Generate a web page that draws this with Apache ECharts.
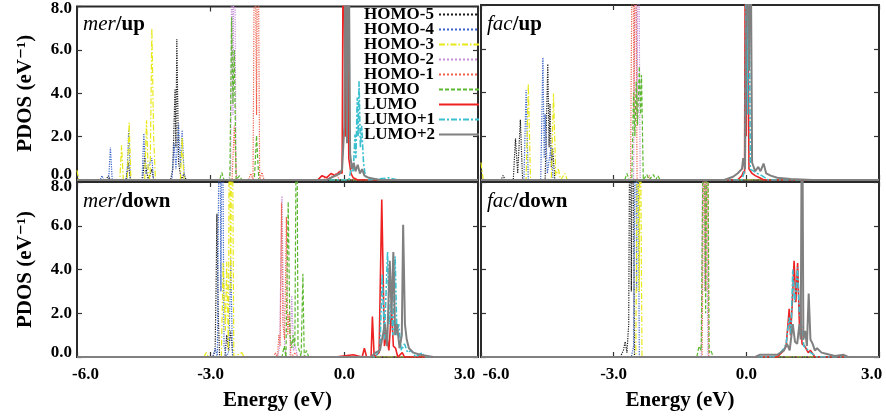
<!DOCTYPE html>
<html>
<head>
<meta charset="utf-8">
<script src="https://cdn.jsdelivr.net/npm/echarts@6/dist/echarts.min.js"></script>
<style>html,body{margin:0;padding:0;background:#fff}#c{width:886px;height:419px}</style>
</head>
<body>
<div id="c"></div>
<script>
// ---------- data ----------
const energyTicks = [-6, -3, 0, 3];
const pdosTicks = [0, 2, 4, 6, 8];
const orbitalNames = ['HOMO-5','HOMO-4','HOMO-3','HOMO-2','HOMO-1','HOMO','LUMO','LUMO+1','LUMO+2'];
const panelIsomers = ['mer', 'fac', 'mer', 'fac'];
const panelSpins = ['/up', '/up', '/down', '/down'];

// mer / up  ([energy eV, PDOS eV^-1])
const merUpH5 = [[-6,0],[-5.35,0],[-5.3,0.2],[-5.25,0],[-4.9,0],[-4.85,0.8],[-4.8,0],[-4.53,0],[-4.48,1.1],[-4.44,0.4],[-4.4,0],[-4.32,0.5],[-4.28,0],[-3.9,0],[-3.85,0.5],[-3.8,4.2],[-3.78,1.5],[-3.76,6.5],[-3.72,0.8],[-3.66,0],[-3.6,0.3],[-3.55,0],[3,0]];
const merUpH4 = [[-6,0],[-5.48,0],[-5.44,0.2],[-5.4,0],[-5.29,0],[-5.25,1.5],[-5.21,0],[-4.88,0],[-4.84,2.3],[-4.8,0],[-4.54,0],[-4.5,2.15],[-4.46,0.3],[-4.32,1.0],[-4.28,0],[-3.87,0],[-3.82,1.7],[-3.78,0.5],[-3.72,2.6],[-3.68,0.6],[-3.64,2.3],[-3.59,0],[3,0]];
const merUpH3 = [[-6,0.45],[-5.96,0],[-5.04,0],[-5.0,1.6],[-4.96,0],[-4.87,0],[-4.83,2.65],[-4.79,0],[-4.48,0],[-4.44,2.75],[-4.4,0.3],[-4.36,0],[-4.32,7.0],[-4.28,2.0],[-4.24,0],[-3.68,0],[-3.64,1.95],[-3.6,0],[3,0]];
const merUpH2 = [[-6,0],[-2.6,0],[-2.55,0.4],[-2.52,14],[-2.5,3],[-2.47,14],[-2.43,0.3],[-2.38,0],[3,0]];
const merUpH1 = [[-6,0],[-2.52,0],[-2.47,2.5],[-2.42,0],[-2.15,0],[-2.1,0.3],[-2.05,0],[-2.01,14],[-1.97,3],[-1.94,14],[-1.9,0],[-1.85,0.35],[-1.8,0],[-0.6,0],[-0.5,0.2],[-0.4,0],[-0.2,0.3],[-0.1,0],[3,0]];
const merUpH  = [[-6,0],[-2.8,0],[-2.75,0.35],[-2.7,0],[-2.57,0],[-2.53,7.5],[-2.5,3.5],[-2.47,6.0],[-2.43,0],[-2.35,0.2],[-2.3,0],[-2.02,0],[-1.97,2.05],[-1.92,0],[3,0]];
const merUpL  = [[-6,0],[-0.6,0],[-0.5,0.2],[-0.4,0.1],[-0.3,0.3],[-0.2,0.2],[-0.1,0.4],[-0.05,0.3],[-0.02,14],[0.02,2],[0.05,14],[0.1,1.0],[0.15,0.3],[0.2,0.1],[0.3,0],[3,0]];
const merUpL1 = [[-6,0],[0.1,0],[0.16,0.6],[0.2,0.4],[0.24,2.1],[0.26,1.0],[0.29,3.8],[0.31,2.0],[0.33,4.55],[0.36,1.5],[0.39,2.5],[0.43,0.8],[0.47,0.2],[0.55,0],[1.0,0.1],[1.2,0],[3,0]];
const merUpL2 = [[-6,0],[-0.4,0],[-0.2,0.2],[-0.1,0.3],[-0.05,0.5],[0.0,2.5],[0.03,14],[0.06,1.7],[0.09,14],[0.13,1.2],[0.17,0.5],[0.21,0.8],[0.25,0.4],[0.3,0.7],[0.35,0.3],[0.4,0.5],[0.45,0.2],[0.55,0.1],[0.8,0],[3,0]];

// fac / up
const facUpH5 = [[-6,0],[-5.55,0],[-5.5,0.2],[-5.45,0],[-5.27,0],[-5.22,1.9],[-5.17,0.3],[-5.11,2.75],[-5.06,0],[-4.55,0],[-4.49,5.3],[-4.46,1.5],[-4.44,3.5],[-4.41,0.6],[-4.38,1.45],[-4.33,0],[3,0]];
const facUpH4 = [[-6,0],[-5.03,0],[-4.98,4.1],[-4.93,0],[-4.65,0],[-4.6,5.6],[-4.57,1.0],[-4.55,3.0],[-4.5,0.3],[-4.42,1.5],[-4.37,0],[3,0]];
const facUpH3 = [[-6,0.8],[-5.95,0],[-4.98,0],[-4.93,4.4],[-4.88,0],[-4.41,0],[-4.36,3.95],[-4.31,0.2],[-4.25,0.5],[-4.2,0],[-4.1,0.3],[-4.05,0],[3,0]];
const facUpH2 = [[-6,0],[-2.55,0],[-2.5,14],[-2.47,3],[-2.44,14],[-2.4,0],[3,0]];
const facUpH1 = [[-6,0],[-2.62,0],[-2.57,14],[-2.54,3],[-2.51,14],[-2.47,0],[-2.25,0],[-2.2,0.2],[-2.15,0],[3,0]];
const facUpH  = [[-6,0],[-2.75,0],[-2.7,0.3],[-2.65,0],[-2.59,0],[-2.55,4.0],[-2.52,2.0],[-2.49,4.5],[-2.46,2.5],[-2.42,5.2],[-2.39,3.0],[-2.37,4.8],[-2.33,0],[-2.25,0.25],[-2.2,0],[-2.1,0.25],[-2.05,0],[-2.0,0.2],[-1.95,0],[3,0]];
const facUpL  = [[-6,0],[-0.2,0],[-0.1,0.2],[-0.06,0.4],[-0.04,0.3],[-0.02,14],[0.0,2],[0.02,14],[0.06,0.5],[0.13,0.3],[0.2,0.2],[0.3,0.1],[0.4,0],[3,0]];
const facUpL1 = [[-6,0],[-0.1,0],[-0.03,0.5],[0.0,14],[0.03,3],[0.05,14],[0.09,0.5],[0.25,0.3],[0.35,0.2],[0.5,0],[3,0]];
const facUpL2 = [[-6,0],[-0.5,0],[-0.3,0.15],[-0.2,0.3],[-0.1,0.5],[-0.07,1.0],[-0.03,0.5],[0.03,14],[0.06,5],[0.09,14],[0.13,0.8],[0.2,0.4],[0.27,0.6],[0.32,0.4],[0.39,0.75],[0.45,0.3],[0.55,0.2],[0.7,0.1],[1.0,0.05],[1.5,0],[3,0]];

// mer / down
const merDnH5 = [[-6,0],[-2.95,0],[-2.9,0.3],[-2.88,3.0],[-2.86,6.55],[-2.83,2.0],[-2.8,0],[-2.68,0],[-2.64,1.0],[-2.6,0.3],[-2.55,1.2],[-2.5,0],[3,0]];
const merDnH4 = [[-6,0],[-2.95,0],[-2.9,0.4],[-2.85,0],[-2.8,14],[-2.77,3],[-2.74,14],[-2.7,0.5],[-2.64,0],[-2.59,0.3],[-2.55,4.5],[-2.51,0],[3,0]];
const merDnH3 = [[-6,0],[-3.15,0],[-3.1,0.2],[-3.05,0],[-2.76,0],[-2.72,4.3],[-2.67,1.2],[-2.64,4.35],[-2.6,0.3],[-2.58,14],[-2.55,3],[-2.52,14],[-2.48,0],[-2.3,0.2],[-2.25,0],[3,0]];
const merDnH2 = [[-6,0],[-1.5,0],[-1.45,0.5],[-1.42,5.0],[-1.4,7.35],[-1.37,3.0],[-1.34,0.5],[-1.3,0],[-1.22,0],[-1.18,2.8],[-1.14,0.3],[-1.1,0.5],[-1.05,0],[3,0]];
const merDnH1 = [[-6,0],[-1.58,0],[-1.55,0.2],[-1.5,0],[-1.47,1.0],[-1.44,0.5],[-1.41,7.05],[-1.38,1.5],[-1.34,0.8],[-1.3,6.4],[-1.27,1.0],[-1.24,2.0],[-1.2,0],[-1.1,0.2],[-1.05,0],[3,0]];
const merDnH  = [[-6,0],[-1.4,0],[-1.35,0.5],[-1.31,0],[-1.29,3.0],[-1.26,7.1],[-1.22,1.0],[-1.18,0.4],[-1.15,1.0],[-1.11,0.5],[-1.07,14],[-1.04,0.5],[-0.97,0],[-0.93,3.8],[-0.9,0],[-0.85,0.3],[-0.8,0],[3,0]];
const merDnL  = [[-6,0],[-0.2,0],[0.2,0.1],[0.4,0],[0.45,0.4],[0.5,0],[0.6,0],[0.63,1.85],[0.67,0],[0.78,0.2],[0.84,7.2],[0.9,0.5],[0.95,1.0],[1.0,0.3],[1.06,2.2],[1.1,0.5],[1.15,0.4],[1.2,0],[1.3,0.2],[1.35,0],[3,0]];
const merDnL1 = [[-6,0],[0.7,0],[0.8,0.4],[0.85,3.8],[0.9,0.8],[0.92,2.0],[0.97,4.8],[1.01,1.5],[1.05,2.5],[1.09,1.0],[1.14,4.6],[1.18,1.0],[1.22,1.5],[1.28,0.3],[1.35,0.6],[1.42,0.2],[1.5,0.3],[1.6,0],[1.75,0.2],[1.8,0],[3,0]];
const merDnL2 = [[-6,0],[0.6,0],[0.7,0.2],[0.8,0.3],[0.91,1.5],[0.96,0.5],[1.02,4.4],[1.06,2.0],[1.1,4.8],[1.14,1.0],[1.18,1.5],[1.24,0.4],[1.29,1.0],[1.32,6.05],[1.36,1.5],[1.4,0.8],[1.45,0.4],[1.55,0.2],[1.7,0.1],[2.0,0],[3,0]];

// fac / down
const facDnH5 = [[-6,0],[-2.85,0],[-2.78,0.3],[-2.74,0.7],[-2.7,0.2],[-2.66,1.5],[-2.63,14],[-2.6,3],[-2.57,14],[-2.53,0],[3,0]];
const facDnH4 = [[-6,0],[-2.6,0],[-2.55,0.5],[-2.5,14],[-2.48,3],[-2.46,14],[-2.42,0],[3,0]];
const facDnH3 = [[-6,0],[-2.5,0],[-2.45,14],[-2.42,3],[-2.4,14],[-2.36,0],[3,0]];
const facDnH2 = [[-6,0],[-1.02,0],[-0.97,14],[-0.94,3],[-0.91,14],[-0.87,0],[3,0]];
const facDnH1 = [[-6,0],[-1.0,0],[-0.95,14],[-0.92,3],[-0.89,14],[-0.85,0],[3,0]];
const facDnH  = [[-6,0],[-1.12,0],[-1.07,0.5],[-1.02,0.3],[-0.96,14],[-0.92,2],[-0.88,14],[-0.84,0.2],[-0.8,0.3],[-0.75,0],[3,0]];
const facDnL  = [[-6,0],[0.7,0],[0.85,0.3],[0.9,0.5],[0.97,2.2],[1.0,1.0],[1.04,2.5],[1.08,4.4],[1.12,2.5],[1.16,4.3],[1.2,1.5],[1.22,2.4],[1.26,0.6],[1.32,0.5],[1.4,0.2],[1.45,0.3],[1.55,0],[3,0]];
const facDnL1 = [[-6,0],[0.6,0],[0.75,0.15],[0.85,0.4],[0.9,0.6],[0.97,1.8],[1.01,1.0],[1.05,4.0],[1.09,2.5],[1.12,3.0],[1.16,4.1],[1.2,2.0],[1.25,1.5],[1.3,0.5],[1.35,0.4],[1.45,0.2],[1.6,0],[3,0]];
const facDnL2 = [[-6,0],[0.2,0],[0.3,0.1],[0.5,0.1],[0.7,0.1],[0.85,0.3],[0.92,0.6],[0.98,0.3],[1.05,1.5],[1.1,0.7],[1.15,0.6],[1.2,1.5],[1.23,0.8],[1.26,14],[1.29,0.8],[1.33,1.2],[1.37,0.5],[1.41,2.9],[1.45,0.8],[1.5,0.6],[1.55,0.3],[1.6,0.4],[1.7,0.2],[1.8,0.15],[2.0,0.05],[2.2,0.1],[2.3,0],[3,0]];

const panelData = [
  [merUpH5, merUpH4, merUpH3, merUpH2, merUpH1, merUpH, merUpL, merUpL1, merUpL2],
  [facUpH5, facUpH4, facUpH3, facUpH2, facUpH1, facUpH, facUpL, facUpL1, facUpL2],
  [merDnH5, merDnH4, merDnH3, merDnH2, merDnH1, merDnH, merDnL, merDnL1, merDnL2],
  [facDnH5, facDnH4, facDnH3, facDnH2, facDnH1, facDnH, facDnL, facDnL1, facDnL2]
];

// ---------- styles ----------
const SERIF = '"Liberation Serif", "DejaVu Serif", serif';
const lineStyles = [
  {color: '#1a1a1a', type: 'dotted', width: 1.2},
  {color: '#3a64c8', type: 'dotted', width: 1.2},
  {color: '#e8e81a', type: [6, 2, 1.5, 2], width: 1.2},
  {color: '#c58bd6', type: 'dotted', width: 1.2},
  {color: '#f0604a', type: 'dotted', width: 1.2},
  {color: '#5cb82e', type: [4, 2], width: 1.2},
  {color: '#ee2222', type: 'solid', width: 1.6},
  {color: '#3cc0d0', type: [6, 2, 2, 2], width: 1.6},
  {color: '#808080', type: 'solid', width: 2}
];
const grids = [
  {left: 77, top: 5, width: 401, height: 175},
  {left: 481, top: 5, width: 398, height: 175},
  {left: 77, top: 182, width: 401, height: 175},
  {left: 481, top: 182, width: 398, height: 175}
];
const labelFont = {fontFamily: SERIF, fontWeight: 'bold', fontSize: 17, color: '#000'};
// edge-label offsets (padding) per panel: [minPadLeft, maxPadRight]
const xEdgePad = [[17, 27], [30, 15], [17, 27], [30, 15]];
// y edge-label offsets per panel: [zeroPadBottom, topPadTop]
const yEdgePad = [[10, 4], [10, 4], [8, 10], [8, 10]];

const xAxes = [], yAxes = [], series = [], graphics = [];
grids.forEach((g, i) => {
  const isBottom = i >= 2, isLeft = i % 2 === 0;
  const tick = {show: true, inside: true, length: 5, lineStyle: {color: '#333', width: 1.2}};
  const noLine = {show: false, onZero: false};
  xAxes.push({
    type: 'value', gridIndex: i, min: energyTicks[0], max: energyTicks[energyTicks.length - 1], interval: 3,
    axisLine: noLine, splitLine: {show: false}, axisTick: tick,
    axisLabel: Object.assign({
      show: isBottom, margin: 9, showMinLabel: true, showMaxLabel: true,
      formatter: v => v === -6 ? '{mn|' + v.toFixed(1) + '}' : (v === 3 ? '{mx|' + v.toFixed(1) + '}' : v.toFixed(1)),
      rich: {
        mn: Object.assign({padding: [0, 0, 0, xEdgePad[i][0]]}, labelFont),
        mx: Object.assign({padding: [0, xEdgePad[i][1], 0, 0]}, labelFont)
      }
    }, labelFont),
    name: isBottom ? 'Energy (eV)' : '', nameLocation: 'middle', nameGap: 33,
    nameTextStyle: {fontFamily: SERIF, fontWeight: 'bold', fontSize: 21, color: '#000'}
  });
  xAxes.push({
    type: 'value', gridIndex: i, position: 'top', min: -6, max: 3, interval: 3,
    axisLine: noLine, splitLine: {show: false}, axisTick: tick, axisLabel: {show: false}
  });
  yAxes.push({
    type: 'value', gridIndex: i, min: pdosTicks[0], max: pdosTicks[pdosTicks.length - 1], interval: 2,
    axisLine: noLine, splitLine: {show: false}, axisTick: tick,
    axisLabel: Object.assign({
      show: isLeft, margin: 5, showMinLabel: true, showMaxLabel: true,
      formatter: v => v === 0 ? '{lo|' + v.toFixed(1) + '}' : (v === 8 ? '{hi|' + v.toFixed(1) + '}' : v.toFixed(1)),
      rich: {
        lo: Object.assign({padding: [0, 0, yEdgePad[i][0], 0]}, labelFont),
        hi: Object.assign({padding: [yEdgePad[i][1], 0, 0, 0]}, labelFont)
      }
    }, labelFont),
    name: isLeft ? 'PDOS (eV\u207B\u00B9)' : '', nameLocation: 'middle', nameGap: 41,
    nameTextStyle: {fontFamily: SERIF, fontWeight: 'bold', fontSize: 21, color: '#000'}
  });
  yAxes.push({
    type: 'value', gridIndex: i, position: 'right', min: 0, max: 8, interval: 2,
    axisLine: noLine, splitLine: {show: false}, axisTick: tick, axisLabel: {show: false}
  });
  panelData[i].forEach((d, k) => {
    series.push({
      type: 'line', name: orbitalNames[k], xAxisIndex: 2 * i, yAxisIndex: 2 * i,
      data: d, symbol: 'none', showSymbol: false, clip: true, animation: false,
      lineStyle: lineStyles[k], itemStyle: {color: lineStyles[k].color}, z: 2 + k
    });
  });
  graphics.push({
    type: 'text', left: g.left + 6, top: g.top + 9, z: 100,
    style: {
      text: '{i|' + panelIsomers[i] + '}{b|' + panelSpins[i] + '}',
      rich: {
        i: {fontFamily: SERIF, fontStyle: 'italic', fontSize: 21, fill: '#000'},
        b: {fontFamily: SERIF, fontWeight: 'bold', fontSize: 21, fill: '#000'}
      }
    }
  });
});

const chart = echarts.init(document.getElementById('c'), null, {renderer: 'canvas'});
chart.setOption({
  animation: false,
  backgroundColor: '#fff',
  grid: grids.map(g => Object.assign({show: true, borderColor: '#2a2a2a', borderWidth: 2, backgroundColor: 'transparent'}, g)),
  xAxis: xAxes,
  yAxis: yAxes,
  legend: {
    data: orbitalNames, orient: 'vertical', left: 364, top: 6, padding: 0, align: 'right',
    itemWidth: 40, itemHeight: 10, itemGap: -2,
    itemStyle: {opacity: 0},
    formatter: name => '{n|' + name + '}',
    textStyle: {
      fontFamily: SERIF, fontWeight: 'bold', fontSize: 17, lineHeight: 17, color: '#000',
      rich: {n: {fontFamily: SERIF, fontWeight: 'bold', fontSize: 17, lineHeight: 17, color: '#000', width: 70, align: 'left'}}
    },
    backgroundColor: 'transparent'
  },
  graphic: graphics,
  series: series
});
</script>
</body>
</html>
